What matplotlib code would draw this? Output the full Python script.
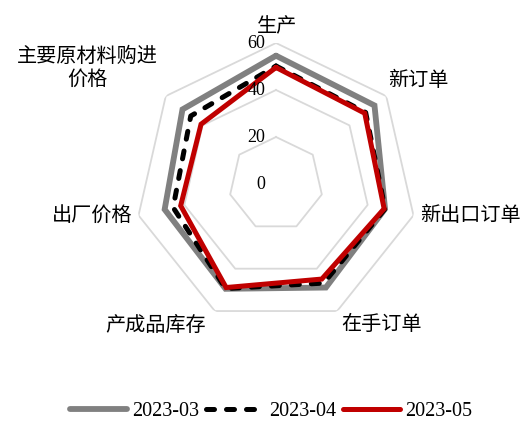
import numpy as np
import matplotlib
matplotlib.use('Agg')
import matplotlib.pyplot as plt
from matplotlib.transforms import offset_copy

# PMI sub-indices
categories = ['生产', '新订单', '新出口订单', '在手订单', '产成品库存', '出厂价格', '主要原材料购进\n价格']
months = ['2023-03', '2023-04', '2023-05']
v_2303 = [54.6, 53.6, 47.6, 48.9, 49.5, 48.6, 50.9]
v_2304 = [50.2, 48.8, 47.6, 46.8, 49.4, 44.9, 46.4]
v_2305 = [49.6, 48.3, 47.2, 44.9, 48.9, 41.6, 40.8]
r_ticks = [0, 20, 40, 60]

W, H = 529, 421
fig = plt.figure(figsize=(W / 100, H / 100), dpi=100)

# center of the radar at (276, 184) px, radius of 60 ring = 141 px
cx, cy, rad = 276, 184, 141
ax = fig.add_axes([(cx - rad) / W, (H - cy - rad) / H, 2 * rad / W, 2 * rad / H],
                  projection='polar')
ax.set_theta_offset(np.pi / 2)
ax.set_theta_direction(-1)
ax.set_ylim(0, 60)
ax.set_xticks([])
ax.set_yticks([])
ax.grid(False)
ax.spines['polar'].set_visible(False)
ax.patch.set_alpha(0)

n = len(categories)
theta = np.linspace(0, 2 * np.pi, n, endpoint=False)
theta_c = np.append(theta, theta[0])

# heptagon grid
for v in r_ticks[1:]:
    ax.plot(theta_c, [v] * (n + 1), color='#d9d9d9', lw=1.3, zorder=1)

def closed(vals):
    return np.append(vals, vals[0])

lw = 3.6
l1, = ax.plot(theta_c, closed(v_2303), color='#808080', lw=lw + 0.6,
              solid_joinstyle='miter', solid_capstyle='round', zorder=3, label=months[0])
l2, = ax.plot(theta_c, closed(v_2304), color='black', lw=lw, dashes=(1.6, 2.4),
              dash_capstyle='round', zorder=4, label=months[1])
l3, = ax.plot(theta_c, closed(v_2305), color='#c00000', lw=lw,
              solid_joinstyle='miter', solid_capstyle='round', zorder=5, label=months[2])

# radial tick labels
tr = offset_copy(ax.transData, fig=fig, x=-11, y=0, units='dots')
for v in r_ticks:
    ax.text(0, v, str(v), transform=tr, ha='right', va='center',
            fontsize=13, family='Liberation Serif', zorder=6)

# category labels (pixel positions)
label_pos = [(277, 27), (418, 80), (470, 215), (381, 325), (156, 325), (92, 215), (87, 68)]
for lab, (x, y) in zip(categories, label_pos):
    fig.text(x / W, 1 - y / H, lab, ha='center', va='center', fontsize=14.5,
             family='Noto Sans CJK SC', linespacing=1.15)

fig.legend(handles=[l1, l2, l3], loc='center', bbox_to_anchor=(271 / W, 1 - 411 / H),
           ncol=3, frameon=False, handlelength=2.85, handletextpad=0.25,
           columnspacing=0.35, prop={'family': 'Liberation Serif', 'size': 14.5})

fig.savefig('out.png', dpi=100)
